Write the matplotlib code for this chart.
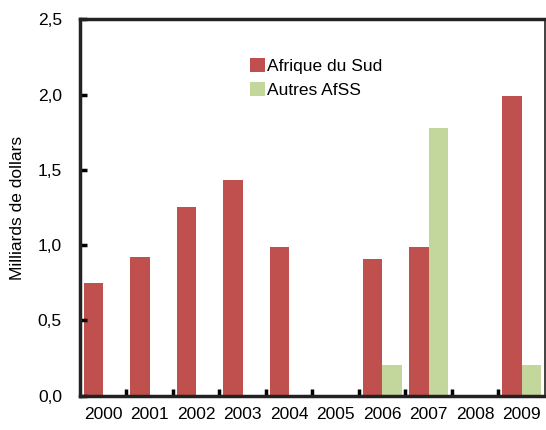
import numpy as np
import matplotlib
matplotlib.use("Agg")
import matplotlib.pyplot as plt
from matplotlib.ticker import FuncFormatter

years = ["2000", "2001", "2002", "2003", "2004", "2005", "2006", "2007", "2008", "2009"]
afrique_du_sud = [0.75, 0.92, 1.25, 1.43, 0.99, 0.0, 0.91, 0.99, 0.0, 1.99]
autres_afss = [0.0, 0.0, 0.0, 0.0, 0.0, 0.0, 0.20, 1.78, 0.0, 0.20]

plt.rcParams["font.family"] = ["Liberation Sans", "DejaVu Sans"]

fig = plt.figure(figsize=(5.46, 4.30), dpi=100)
ax = fig.add_axes([0.1465, 0.0802, 0.8515, 0.8745])

x = np.arange(len(years))
w = 0.42
ax.bar(x - w / 2, afrique_du_sud, w, color="#C0504D", label="Afrique du Sud")
ax.bar(x + w / 2, autres_afss, w, color="#C3D69B", label="Autres AfSS")

ax.set_xlim(-0.5, len(years) - 0.5)
ax.set_ylim(0, 2.5)
ax.set_yticks(np.arange(0, 2.51, 0.5))
ax.yaxis.set_major_formatter(FuncFormatter(lambda v, p: f"{v:.1f}".replace(".", ",")))
ax.set_xticks(x)
ax.set_xticklabels(years)
ax.set_xticks(x[:-1] + 0.5, minor=True)
ax.tick_params(axis="x", which="major", length=0, pad=8, labelsize=12.5)
ax.tick_params(axis="x", which="minor", direction="in", length=5, width=2.5)
ax.tick_params(axis="y", direction="in", length=5, width=2.5, labelsize=12.5, pad=13)

for side in ["left", "bottom", "top"]:
    ax.spines[side].set_linewidth(2.5)
ax.spines["right"].set_linewidth(1.2)
for s in ax.spines.values():
    s.set_color("#222222")

ax.set_ylabel("Milliards de dollars", fontsize=12.5, labelpad=9)

ax.legend(loc="upper left", bbox_to_anchor=(0.366, 0.897), frameon=False,
          fontsize=12.5, handlelength=0.85, handleheight=0.85,
          handletextpad=0.1, labelspacing=0.45, borderpad=0, borderaxespad=0)

fig.savefig("out.png", dpi=100)
